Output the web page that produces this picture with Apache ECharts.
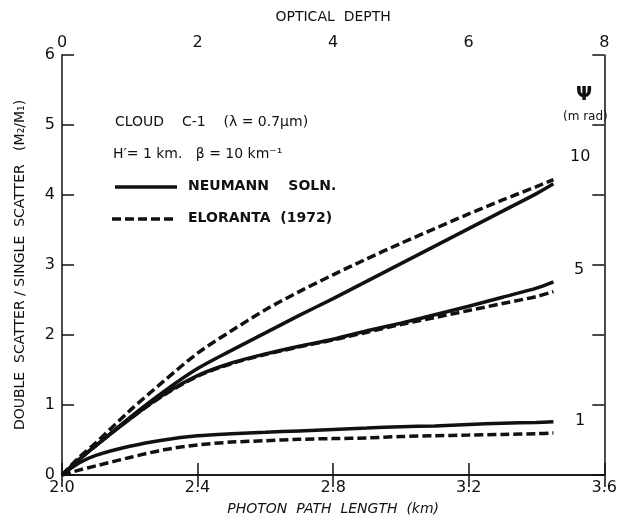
<!DOCTYPE html>
<html>
<head>
<meta charset="utf-8">
<script src="https://cdn.jsdelivr.net/npm/echarts@6/dist/echarts.min.js"></script>
<style>
  html, body { margin: 0; padding: 0; background: #fff; }
  #main { width: 620px; height: 522px; }
</style>
</head>
<body>
<div id="main"></div>
<script>
// photon path length (km) sample points, shared by every curve
var pathLength = [2.0, 2.05, 2.1, 2.2, 2.3, 2.4, 2.5, 2.6, 2.7, 2.8, 2.9, 3.0, 3.1, 3.2, 3.3, 3.4, 3.45]

// M2/M1, per field of view (m rad)
var neumann10  = [0, 0.22, 0.42, 0.82, 1.19, 1.52, 1.78, 2.03, 2.28, 2.52, 2.77, 3.02, 3.27, 3.52, 3.77, 4.02, 4.16]
var eloranta10 = [0, 0.25, 0.46, 0.92, 1.34, 1.74, 2.06, 2.36, 2.62, 2.86, 3.09, 3.31, 3.52, 3.73, 3.93, 4.12, 4.22]
var neumann5   = [0, 0.22, 0.42, 0.80, 1.15, 1.42, 1.60, 1.73, 1.84, 1.94, 2.06, 2.17, 2.29, 2.41, 2.54, 2.67, 2.76]
var eloranta5  = [0, 0.22, 0.42, 0.80, 1.14, 1.41, 1.59, 1.72, 1.83, 1.93, 2.04, 2.15, 2.25, 2.35, 2.45, 2.55, 2.62]
var neumann1   = [0, 0.17, 0.28, 0.41, 0.50, 0.56, 0.59, 0.61, 0.63, 0.65, 0.67, 0.69, 0.70, 0.72, 0.74, 0.75, 0.76]
var eloranta1  = [0, 0.07, 0.13, 0.25, 0.36, 0.43, 0.47, 0.49, 0.51, 0.52, 0.53, 0.55, 0.56, 0.57, 0.58, 0.59, 0.60]

var curveLabels = ['10', '5', '1']

var ink = '#111'
var font = 'DejaVu Sans'

function pairs (ys) {
  return pathLength.map(function (x, i) { return [x, ys[i]] })
}

function curve (name, ys, dashed) {
  return {
    name: name,
    type: 'line',
    smooth: 0.3,
    symbol: 'none',
    silent: true,
    data: pairs(ys),
    lineStyle: {
      color: ink,
      width: 3.5,
      type: dashed ? [9, 4] : 'solid'
    }
  }
}

var myChart = echarts.init(document.getElementById('main'))

var tickStyle = { inside: true, length: 12, lineStyle: { color: ink, width: 1.5 } }
var lineStyle = { lineStyle: { color: ink, width: 1.5 } }
var labelStyle = { color: ink, fontSize: 16, fontFamily: font }

myChart.setOption({
  animation: false,
  grid: { left: 62, right: 14, top: 55, bottom: 47 },
  xAxis: [{
    type: 'value',
    position: 'bottom',
    min: 2.0,
    max: 3.6,
    interval: 0.4,
    axisLine: lineStyle,
    axisTick: tickStyle,
    splitLine: { show: false },
    axisLabel: Object.assign({ margin: 5, formatter: function (v) { return v.toFixed(1) } }, labelStyle),
    name: 'PHOTON  PATH  LENGTH  (km)',
    nameLocation: 'middle',
    nameGap: 27,
    nameTextStyle: { color: ink, fontSize: 14, fontFamily: font, fontStyle: 'italic' }
  }, {
    type: 'value',
    position: 'top',
    min: 0,
    max: 8,
    interval: 2,
    axisLine: lineStyle,
    axisTick: tickStyle,
    splitLine: { show: false },
    axisLabel: Object.assign({ margin: 4 }, labelStyle),
    name: 'OPTICAL  DEPTH',
    nameLocation: 'middle',
    nameGap: 31,
    nameTextStyle: { color: ink, fontSize: 14, fontFamily: font }
  }],
  yAxis: [{
    type: 'value',
    position: 'left',
    min: 0,
    max: 6,
    interval: 1,
    axisLine: lineStyle,
    axisTick: tickStyle,
    splitLine: { show: false },
    axisLabel: Object.assign({ margin: 7 }, labelStyle),
    name: 'DOUBLE  SCATTER / SINGLE  SCATTER   (M\u2082/M\u2081)',
    nameLocation: 'middle',
    nameGap: 35,
    nameTextStyle: { color: ink, fontSize: 14, fontFamily: font }
  }, {
    type: 'value',
    position: 'right',
    min: 0,
    max: 6,
    interval: 1,
    axisLine: lineStyle,
    axisTick: tickStyle,
    splitLine: { show: false },
    axisLabel: { show: false }
  }],
  series: [
    curve('Neumann 10', neumann10, false),
    curve('Eloranta 10', eloranta10, true),
    curve('Neumann 5', neumann5, false),
    curve('Eloranta 5', eloranta5, true),
    curve('Neumann 1', neumann1, false),
    curve('Eloranta 1', eloranta1, true)
  ],
  graphic: [
    { type: 'text', left: 115, top: 115, style: { text: 'CLOUD    C-1    (\u03bb = 0.7\u03bcm)', font: '14px ' + font, fill: ink } },
    { type: 'text', left: 113, top: 147, style: { text: 'H\u2032= 1 km.   \u03b2 = 10 km\u207b\u00b9', font: '14px ' + font, fill: ink } },
    { type: 'line', shape: { x1: 115, y1: 187, x2: 177, y2: 187 }, style: { stroke: ink, lineWidth: 3.5 } },
    { type: 'text', left: 188, top: 179, style: { text: 'NEUMANN    SOLN.', font: 'bold 14px ' + font, fill: ink } },
    { type: 'line', shape: { x1: 112, y1: 219, x2: 177, y2: 219 }, style: { stroke: ink, lineWidth: 3.5, lineDash: [9, 4] } },
    { type: 'text', left: 188, top: 211, style: { text: 'ELORANTA  (1972)', font: 'bold 14px ' + font, fill: ink } },
    { type: 'text', left: 576, top: 86, style: { text: '\u03a8', font: 'bold 19px ' + font, fill: ink } },
    { type: 'text', left: 563, top: 111, style: { text: '(m rad)', font: '12px ' + font, fill: ink } },
    { type: 'text', left: 570, top: 149, style: { text: curveLabels[0], font: '16px ' + font, fill: ink } },
    { type: 'text', left: 574, top: 262, style: { text: curveLabels[1], font: '16px ' + font, fill: ink } },
    { type: 'text', left: 575, top: 413, style: { text: curveLabels[2], font: '16px ' + font, fill: ink } }
  ]
})

window.onresize = function () {
  myChart.resize()
}
</script>
</body>
</html>
